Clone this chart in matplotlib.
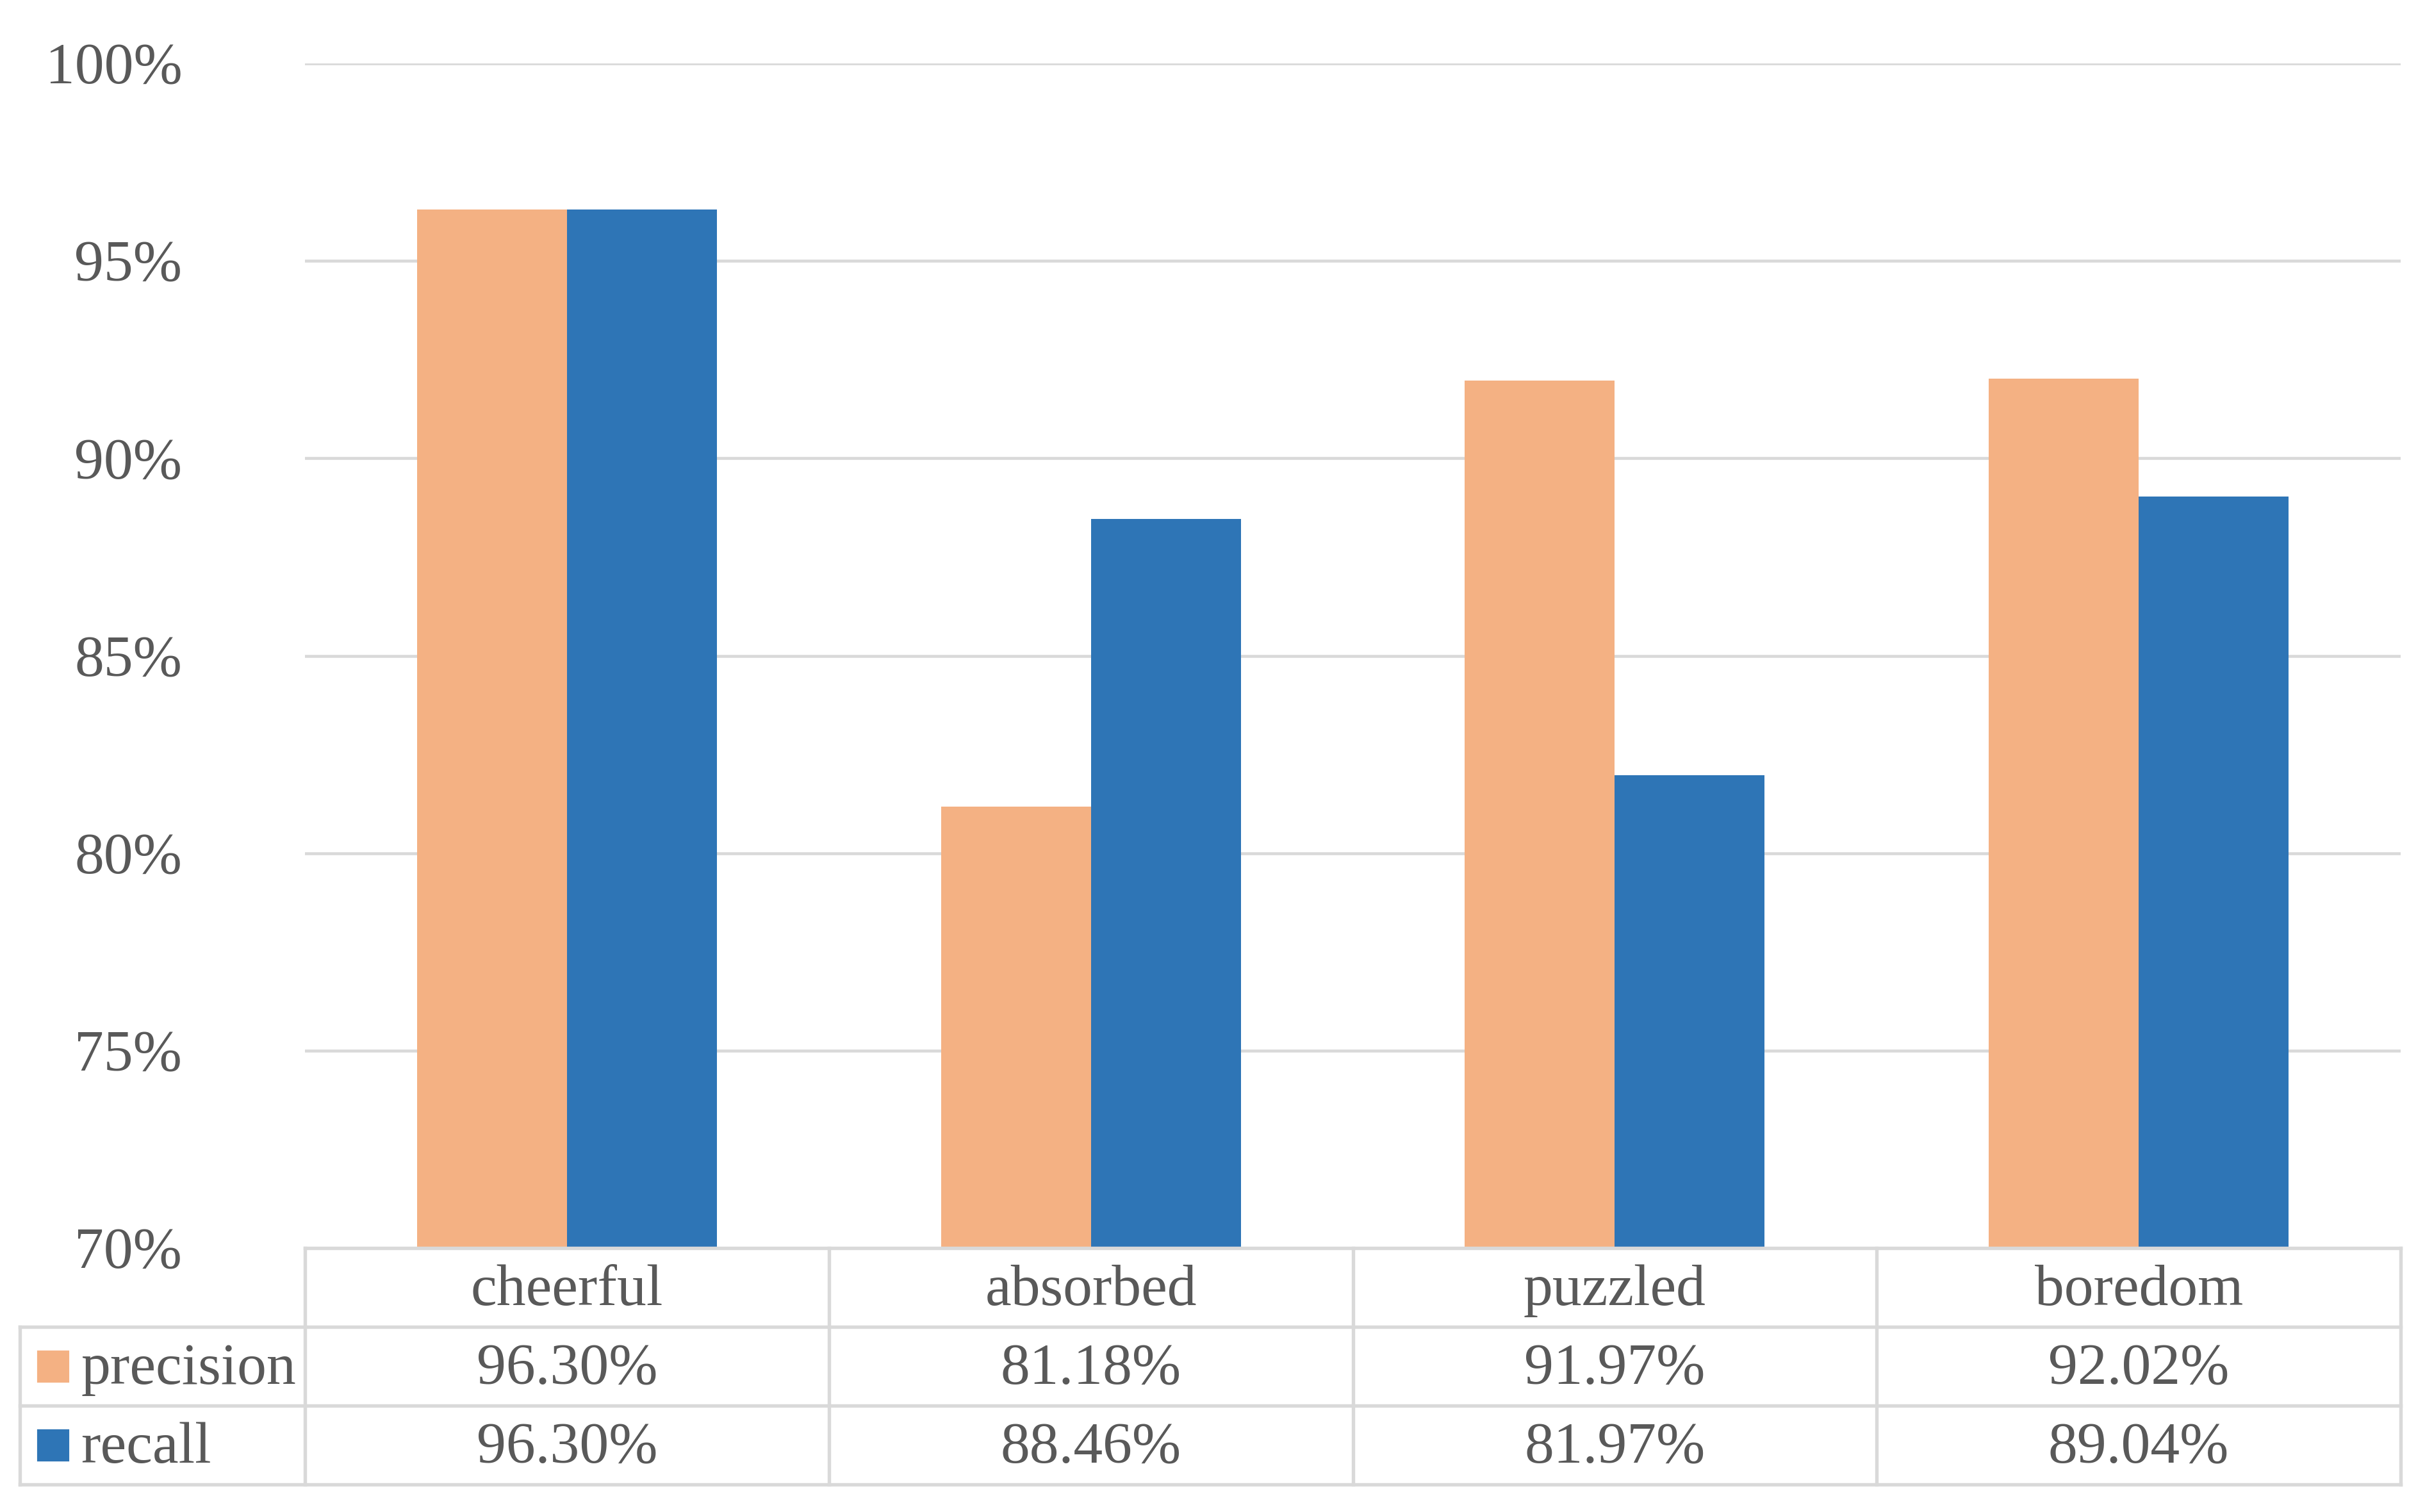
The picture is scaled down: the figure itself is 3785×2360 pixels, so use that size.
import matplotlib
matplotlib.use("Agg")
import matplotlib.pyplot as plt
from matplotlib.patches import Rectangle
from matplotlib.transforms import blended_transform_factory
from matplotlib.lines import Line2D

categories = ["cheerful", "absorbed", "puzzled", "boredom"]
series_names = ["precision", "recall"]
precision = [96.30, 81.18, 91.97, 92.02]
recall = [96.30, 88.46, 81.97, 89.04]
yticks = [70, 75, 80, 85, 90, 95, 100]

colors = ["#F4B183", "#2E75B6"]
text_color = "#595959"
grid_color = "#D9D9D9"

plt.rcParams["font.family"] = ["Liberation Serif", "DejaVu Serif"]
FS = 22

W, H, DPI = 3786, 2360, 300
fig = plt.figure(figsize=(W / DPI, H / DPI), dpi=DPI)
ax = fig.add_axes([476 / W, 1 - 1948 / H, (3747 - 476) / W, (1948 - 99) / H])

x = list(range(len(categories)))
bw = 0.286
ax.bar([i - bw / 2 for i in x], precision, width=bw, color=colors[0], zorder=3)
ax.bar([i + bw / 2 for i in x], recall, width=bw, color=colors[1], zorder=3)

ax.set_xlim(-0.5, len(categories) - 0.5)
ax.set_ylim(70, 100)
ax.set_yticks(yticks)
ax.set_yticklabels([f"{v}%" for v in yticks], fontsize=FS, color=text_color)
ax.tick_params(axis="y", length=0, pad=46)
ax.set_xticks([])
for s in ax.spines.values():
    s.set_visible(False)
for v in yticks[1:]:
    ax.axhline(v, color=grid_color, lw=1.1, zorder=1)

# data table
tr = blended_transform_factory(ax.transData, ax.transAxes)
axh_px = 1948 - 99
h = 123 / axh_px
cat_px = (3747 - 476) / len(categories)
left_edge = -0.5 - (476 - 31) / cat_px
right_edge = len(categories) - 0.5
lw = 1.3
# horizontal lines
ax.add_line(Line2D([-0.5, right_edge], [0, 0], transform=tr, color=grid_color, lw=lw, clip_on=False, zorder=4))
for k in range(1, 4):
    ax.add_line(Line2D([left_edge, right_edge], [-k * h, -k * h], transform=tr, color=grid_color, lw=lw, clip_on=False))
# vertical lines
for k in range(len(categories) + 1):
    ax.add_line(Line2D([k - 0.5, k - 0.5], [0, -3 * h], transform=tr, color=grid_color, lw=lw, clip_on=False))
ax.add_line(Line2D([left_edge, left_edge], [-h, -3 * h], transform=tr, color=grid_color, lw=lw, clip_on=False))

dy = -0.003
for i, c in enumerate(categories):
    ax.text(i, -0.5 * h + dy, c, transform=tr, ha="center", va="center", fontsize=FS, color=text_color)
    ax.text(i, -1.5 * h + dy, f"{precision[i]:.2f}%", transform=tr, ha="center", va="center", fontsize=FS, color=text_color)
    ax.text(i, -2.5 * h + dy, f"{recall[i]:.2f}%", transform=tr, ha="center", va="center", fontsize=FS, color=text_color)

sq_w = 46 / cat_px
sq_h = 46 / axh_px
sq_x = left_edge + (60 - 31) / cat_px
txt_x = left_edge + (126 - 31) / cat_px
for r, name in enumerate(series_names):
    yc = -(1.5 + r) * h
    ax.add_patch(Rectangle((sq_x, yc - sq_h / 2), sq_w, sq_h, transform=tr, color=colors[r], clip_on=False))
    ax.text(txt_x, yc + dy, name, transform=tr, ha="left", va="center", fontsize=FS, color=text_color)

fig.savefig("out.png", dpi=DPI)
